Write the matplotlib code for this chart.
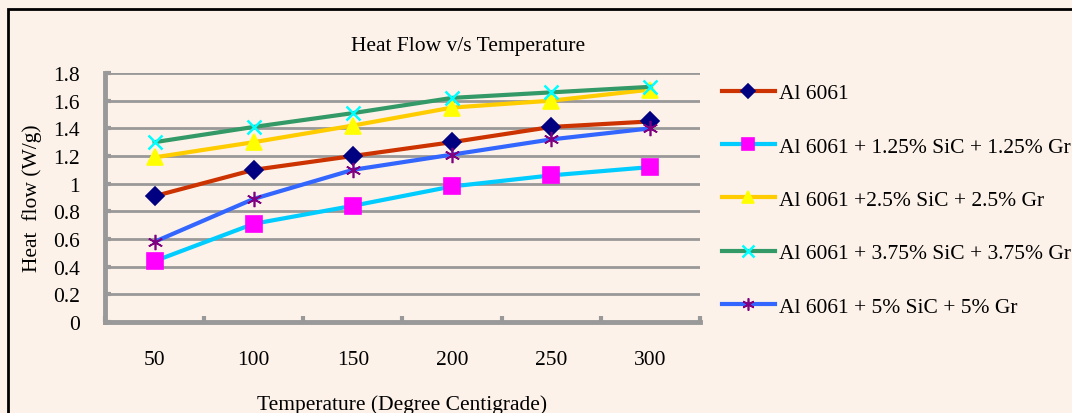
import matplotlib
matplotlib.use("Agg")
import matplotlib.pyplot as plt
from matplotlib.patches import Rectangle

temps = ["50", "100", "150", "200", "250", "300"]
al6061 = [0.91, 1.10, 1.20, 1.30, 1.41, 1.45]
mix_125 = [0.44, 0.71, 0.84, 0.98, 1.06, 1.12]
mix_25 = [1.19, 1.30, 1.42, 1.55, 1.60, 1.68]
mix_375 = [1.30, 1.41, 1.51, 1.62, 1.66, 1.70]
mix_5 = [0.58, 0.89, 1.10, 1.21, 1.32, 1.40]
labels = ["Al 6061",
          "Al 6061 + 1.25% SiC + 1.25% Gr",
          "Al 6061 +2.5% SiC + 2.5% Gr",
          "Al 6061 + 3.75% SiC + 3.75% Gr",
          "Al 6061 + 5% SiC + 5% Gr"]
yticks = [0, 0.2, 0.4, 0.6, 0.8, 1, 1.2, 1.4, 1.6, 1.8]

plt.rcParams["font.family"] = ["Liberation Serif", "DejaVu Serif"]
bg = "#FCF2E9"
W, H = 1072, 414
fs = 15.5

fig = plt.figure(figsize=(W / 100, H / 100), dpi=100, facecolor=bg)
# outer frame (only top/left visible in the original crop)
fig.patches.append(Rectangle((8 / W, -0.1), 1.2, (H - 10) / H + 0.1, transform=fig.transFigure,
                             fill=False, ec="black", lw=2, clip_on=False))

ax = fig.add_axes([105 / W, (H - 323) / H, 595 / W, 249 / H])
ax.set_facecolor(bg)

styles = [
    (al6061, "#CC3300", "D", "#000080", 9),
    (mix_125, "#00CCFF", "s", "#FF00FF", 11),
    (mix_25, "#FFCC00", "^", "#FFFF00", 11),
    (mix_375, "#339966", "x", "#00FFFF", 10),
    (mix_5, "#3366FF", (6, 2, 0), "#800080", 11),
]
x = list(range(len(temps)))
for (vals, lc, mk, mc, ms), lab in zip(styles, labels):
    ax.plot(x, vals, color=lc, lw=3, marker=mk, ms=ms, mfc=mc, mec=mc, mew=1.8 if mk == "x" else 1.2,
            label=lab, zorder=3)

ax.set_xlim(-0.5, 5.5)
ax.set_ylim(0, 1.8)
ax.set_yticks(yticks)
ax.set_yticklabels(["0", "0.2", "0.4", "0.6", "0.8", "1", "1.2", "1.4", "1.6", "1.8"])
ax.set_xticks(x)
ax.set_xticklabels(temps)
ax.set_xticks([i + 0.5 for i in range(-1, 6)], minor=True)
ax.grid(axis="y", color="#999999", lw=2)
ax.tick_params(axis="x", which="major", length=0, pad=20, labelsize=fs)
ax.tick_params(axis="x", which="minor", direction="in", length=4, width=3, color="#999999")
ax.tick_params(axis="y", direction="in", length=4, width=3, color="#999999", pad=18, labelsize=fs)

for s in ["top", "right"]:
    ax.spines[s].set_visible(False)
for s in ["left", "bottom"]:
    ax.spines[s].set_color("#999999")
    ax.spines[s].set_linewidth(3.5)

ax.set_xlabel("Temperature (Degree Centigrade)", fontsize=fs, labelpad=18)
ax.set_ylabel("Heat  flow (W/g)", fontsize=fs, labelpad=8)
fig.text(468 / W, 1 - 46 / H, "Heat Flow v/s Temperature", ha="center", va="center", fontsize=fs)

ax.legend(loc="upper left", bbox_to_anchor=(722 / W, 1 - 84 / H), bbox_transform=fig.transFigure,
          frameon=False, fontsize=fs, handlelength=2.45, handletextpad=0.2, labelspacing=1.55,
          borderaxespad=0, borderpad=0, markerscale=0.8)

fig.savefig("out.png", dpi=100, facecolor=bg)
